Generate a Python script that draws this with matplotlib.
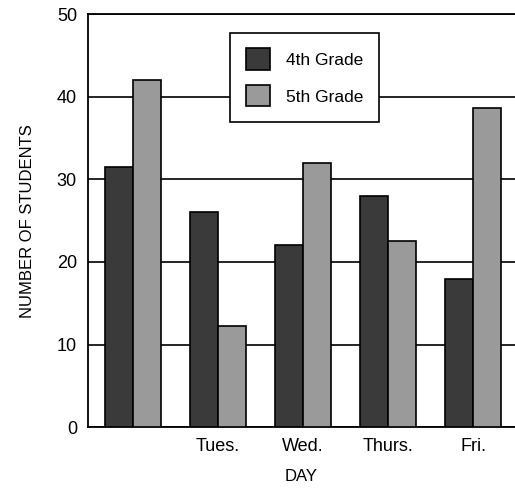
import matplotlib
matplotlib.use('Agg')
import matplotlib.pyplot as plt
import numpy as np

days = ['', 'Tues.', 'Wed.', 'Thurs.', 'Fri.']
grade4 = [31.5, 26, 22, 28, 18]
grade5 = [42, 12.3, 32, 22.5, 38.6]

plt.rcParams['font.family'] = ['Liberation Sans', 'DejaVu Sans']

fig = plt.figure(figsize=(5.15, 4.91), dpi=100)
ax = fig.add_axes([0.171, 0.130, 0.829, 0.841])

x = np.arange(len(days))
w = 0.33
ax.bar(x - w / 2, grade4, w, color='#3a3a3a', edgecolor='black', linewidth=1.2,
       label='4th Grade', zorder=3)
ax.bar(x + w / 2, grade5, w, color='#9a9a9a', edgecolor='black', linewidth=1.2,
       label='5th Grade', zorder=3)

# 横向网格线
ax.set_ylim(0, 50)
ax.set_yticks(range(0, 51, 10))
ax.yaxis.grid(True, color='black', linewidth=1.2, zorder=0)
ax.set_xlim(-0.53, 4.49)
ax.set_xticks(x)
ax.set_xticklabels(days, fontsize=13)
ax.tick_params(axis='y', labelsize=13, length=0, pad=8)
ax.tick_params(axis='x', length=0, pad=8)

ax.spines['right'].set_visible(False)
for s in ['left', 'top', 'bottom']:
    ax.spines[s].set_linewidth(1.3)

ax.set_ylabel('NUMBER OF STUDENTS', fontsize=12, labelpad=16)
ax.set_xlabel('DAY', fontsize=12, labelpad=10)

leg = ax.legend(loc='upper left', bbox_to_anchor=(0.333, 0.955), fontsize=12.5,
                fancybox=False, edgecolor='black', framealpha=1,
                handlelength=1.4, handleheight=1.5, borderpad=0.9,
                labelspacing=0.9, handletextpad=0.9, borderaxespad=0)
leg.get_frame().set_linewidth(1.2)

plt.savefig('out.png', dpi=100)
